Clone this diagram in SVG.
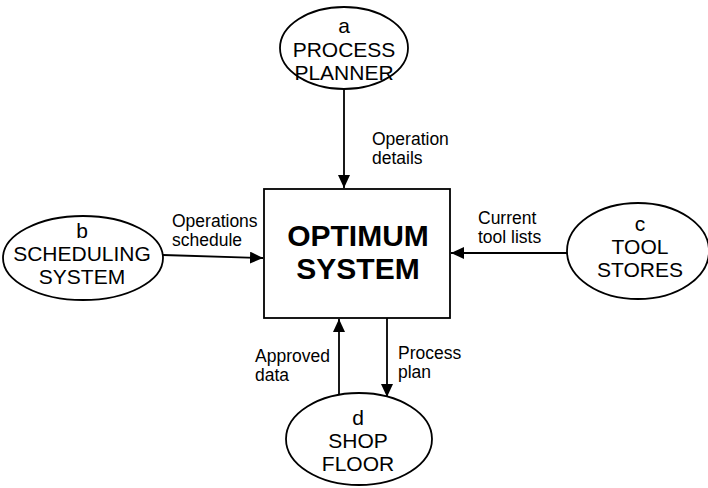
<svg xmlns="http://www.w3.org/2000/svg" width="708" height="488" viewBox="0 0 708 488">
<style>
.node{fill:#fff;stroke:#000;stroke-width:1.8}
.nt{font-family:"Liberation Sans",Arial,sans-serif;font-size:21px;text-anchor:middle;fill:#000}
.lbl{font-family:"Liberation Sans",Arial,sans-serif;font-size:17.5px;fill:#000}
.big{font-family:"Liberation Sans",Arial,sans-serif;font-size:30px;font-weight:bold;text-anchor:middle;fill:#000}
.edge{stroke:#000;stroke-width:1.8;fill:none;marker-end:url(#ah)}
</style>
<defs>
<marker id="ah" markerUnits="userSpaceOnUse" markerWidth="14" markerHeight="12" refX="13" refY="6" orient="auto">
<path d="M0,0 L13,6 L0,12 Z" fill="#000"/>
</marker>
</defs>
<rect width="708" height="488" fill="#fff"/>
<g id="connectors">
<path class="edge" d="M344,89 L344,188"/>
<path class="edge" d="M163,255 L263,258"/>
<path class="edge" d="M567,253 L451,253"/>
<path class="edge" d="M387,318 L387,397"/>
<path class="edge" d="M339,396 L339,319"/>
<text class="lbl" x="372" y="145">Operation</text>
<text class="lbl" x="372" y="164">details</text>
<text class="lbl" x="172" y="227">Operations</text>
<text class="lbl" x="172" y="246">schedule</text>
<text class="lbl" x="478" y="224">Current</text>
<text class="lbl" x="478" y="243">tool lists</text>
<text class="lbl" x="255" y="362">Approved</text>
<text class="lbl" x="255" y="381">data</text>
<text class="lbl" x="398" y="359">Process</text>
<text class="lbl" x="398" y="378">plan</text>
</g>
<g id="system">
<rect class="node" x="264" y="189" width="186" height="129"/>
<text class="big" x="358" y="246">OPTIMUM</text>
<text class="big" x="358" y="279">SYSTEM</text>
</g>
<g id="a">
<ellipse class="node" cx="344" cy="48" rx="64" ry="41"/>
<text class="nt" x="344" y="33">a</text>
<text class="nt" x="344" y="57">PROCESS</text>
<text class="nt" x="344" y="80">PLANNER</text>
</g>
<g id="b">
<ellipse class="node" cx="83" cy="258" rx="80" ry="42"/>
<text class="nt" x="82" y="238">b</text>
<text class="nt" x="82" y="261">SCHEDULING</text>
<text class="nt" x="82" y="284">SYSTEM</text>
</g>
<g id="c">
<ellipse class="node" cx="638" cy="251" rx="71" ry="48"/>
<text class="nt" x="640" y="231">c</text>
<text class="nt" x="640" y="254">TOOL</text>
<text class="nt" x="640" y="277">STORES</text>
</g>
<g id="d">
<ellipse class="node" cx="359" cy="439" rx="73" ry="46"/>
<text class="nt" x="358" y="425">d</text>
<text class="nt" x="358" y="448">SHOP</text>
<text class="nt" x="358" y="471">FLOOR</text>
</g>
</svg>
